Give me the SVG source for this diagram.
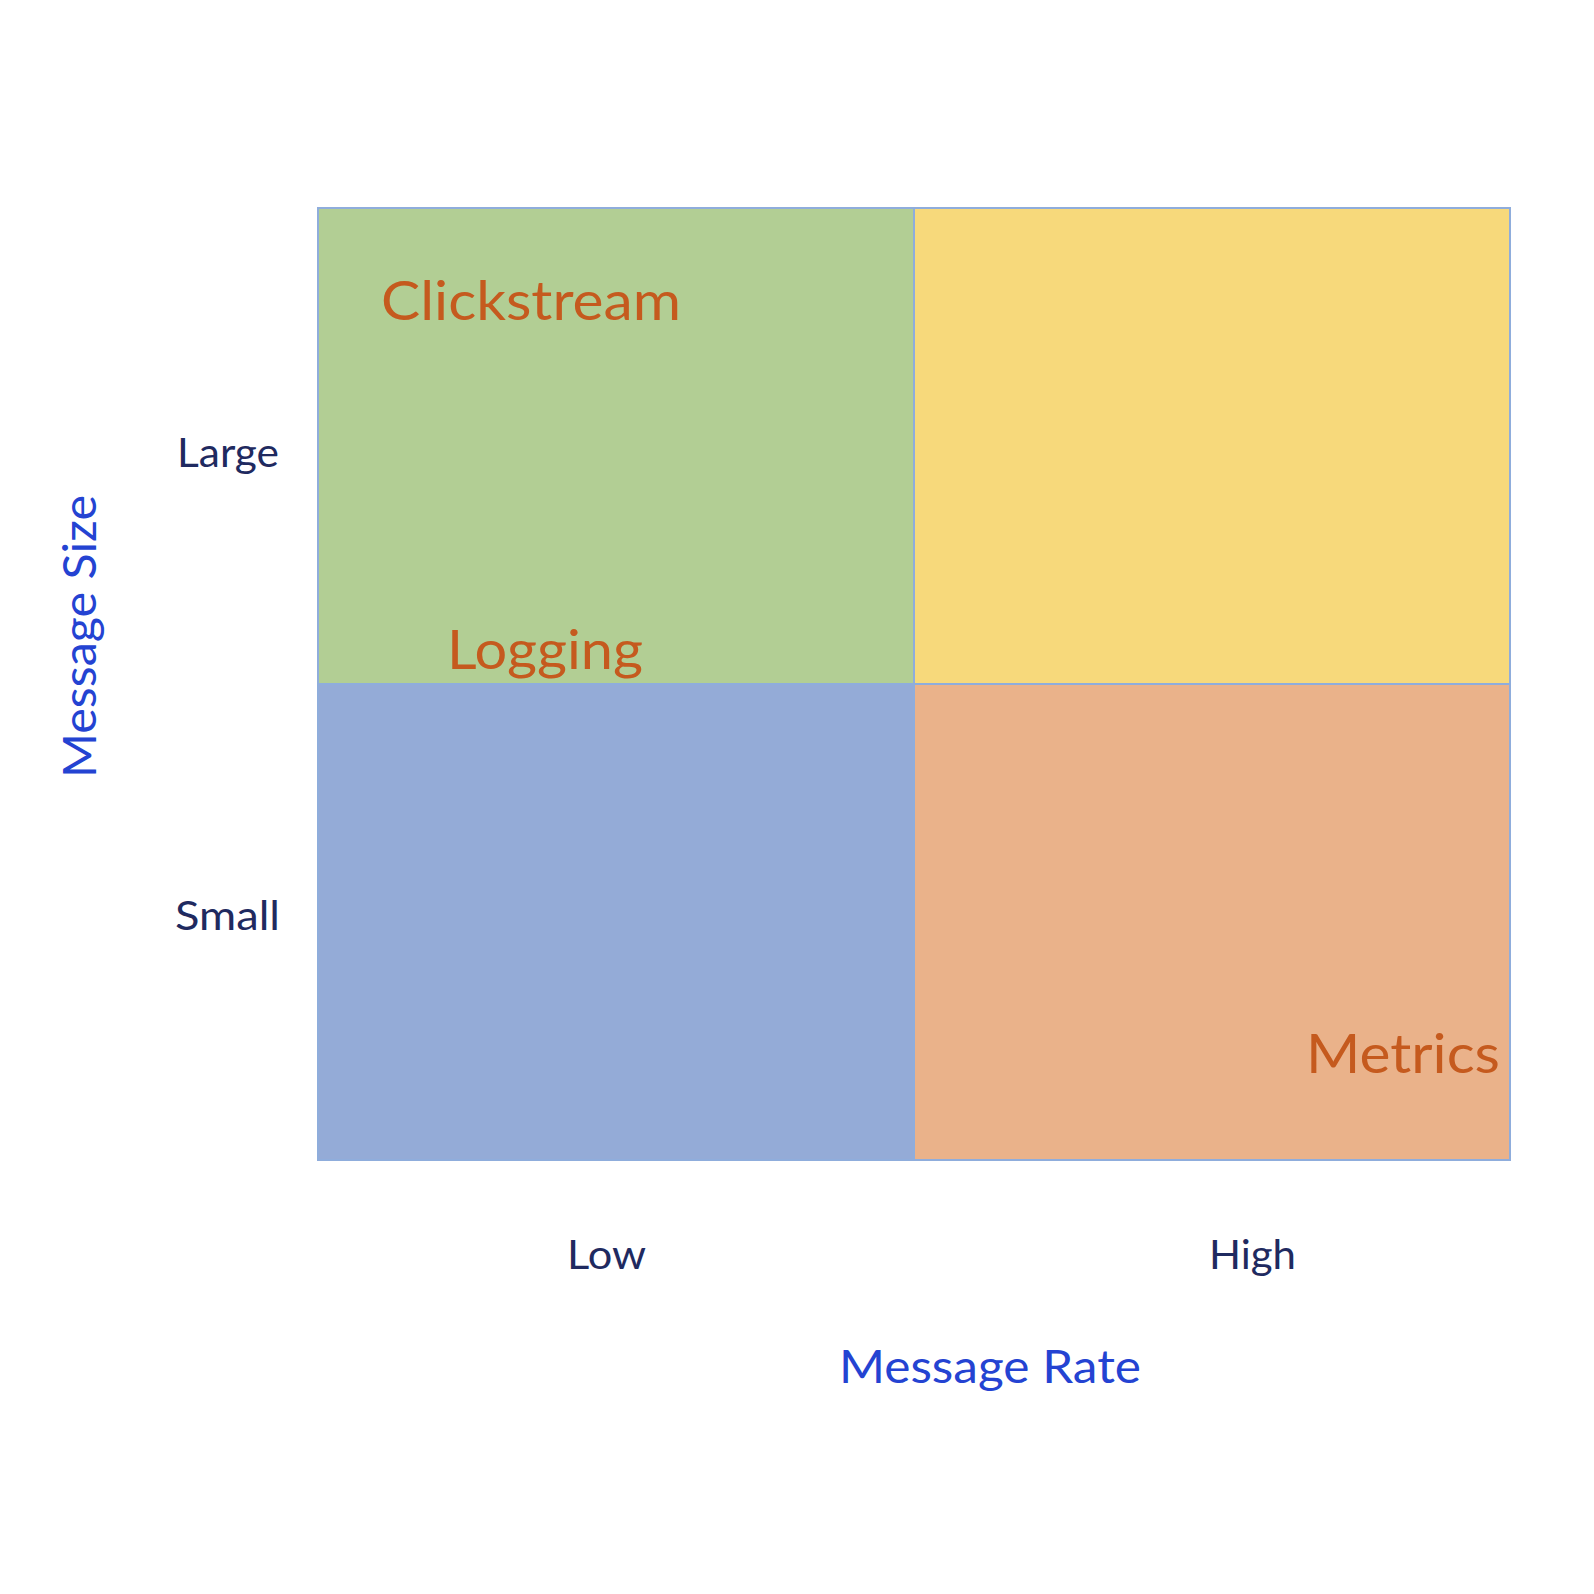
<svg xmlns="http://www.w3.org/2000/svg" width="1594" height="1594" viewBox="0 0 1594 1594">
<style>
.cell{stroke:#8FADDC;stroke-width:2}
.q{font-family:Lato,"Open Sans",sans-serif;fill:#C55A1E}
.tick{font-family:Lato,"Open Sans",sans-serif;fill:#1F2A60;font-size:40px}
.axis{font-family:Lato,"Open Sans",sans-serif;fill:#2443D2;font-size:46px}
</style>
<rect width="1594" height="1594" fill="#FFFFFF"/>
<g id="q-tl"><rect class="cell" x="318" y="208" width="596" height="476" fill="#B2CE94"/></g>
<g id="q-tr"><rect class="cell" x="914" y="208" width="596" height="476" fill="#F7D97B"/></g>
<g id="q-bl"><rect class="cell" x="318" y="684" width="596" height="476" fill="#94ABD7"/></g>
<g id="q-br"><rect class="cell" x="914" y="684" width="596" height="476" fill="#EAB28A"/></g>
<g id="clickstream"><text class="q" x="381" y="320" font-size="54" textLength="300" lengthAdjust="spacingAndGlyphs">Clickstream</text></g>
<g id="logging"><text class="q" x="447" y="669" font-size="54" textLength="196" lengthAdjust="spacingAndGlyphs">Logging</text></g>
<g id="metrics"><text class="q" x="1306" y="1073" font-size="54" textLength="194" lengthAdjust="spacingAndGlyphs">Metrics</text></g>
<g id="large"><text class="tick" x="177" y="467" textLength="102" lengthAdjust="spacingAndGlyphs">Large</text></g>
<g id="small"><text class="tick" x="175" y="930" textLength="105" lengthAdjust="spacingAndGlyphs">Small</text></g>
<g id="low"><text class="tick" x="567" y="1269" textLength="79" lengthAdjust="spacingAndGlyphs">Low</text></g>
<g id="high"><text class="tick" x="1209" y="1269" textLength="87" lengthAdjust="spacingAndGlyphs">High</text></g>
<g id="message-rate"><text class="axis" x="839" y="1383" textLength="302" lengthAdjust="spacingAndGlyphs">Message Rate</text></g>
<g id="message-size"><text class="axis" transform="translate(96,778) rotate(-90)" x="0" y="0" textLength="283" lengthAdjust="spacingAndGlyphs">Message Size</text></g>
<g id="connectors"></g>
</svg>
